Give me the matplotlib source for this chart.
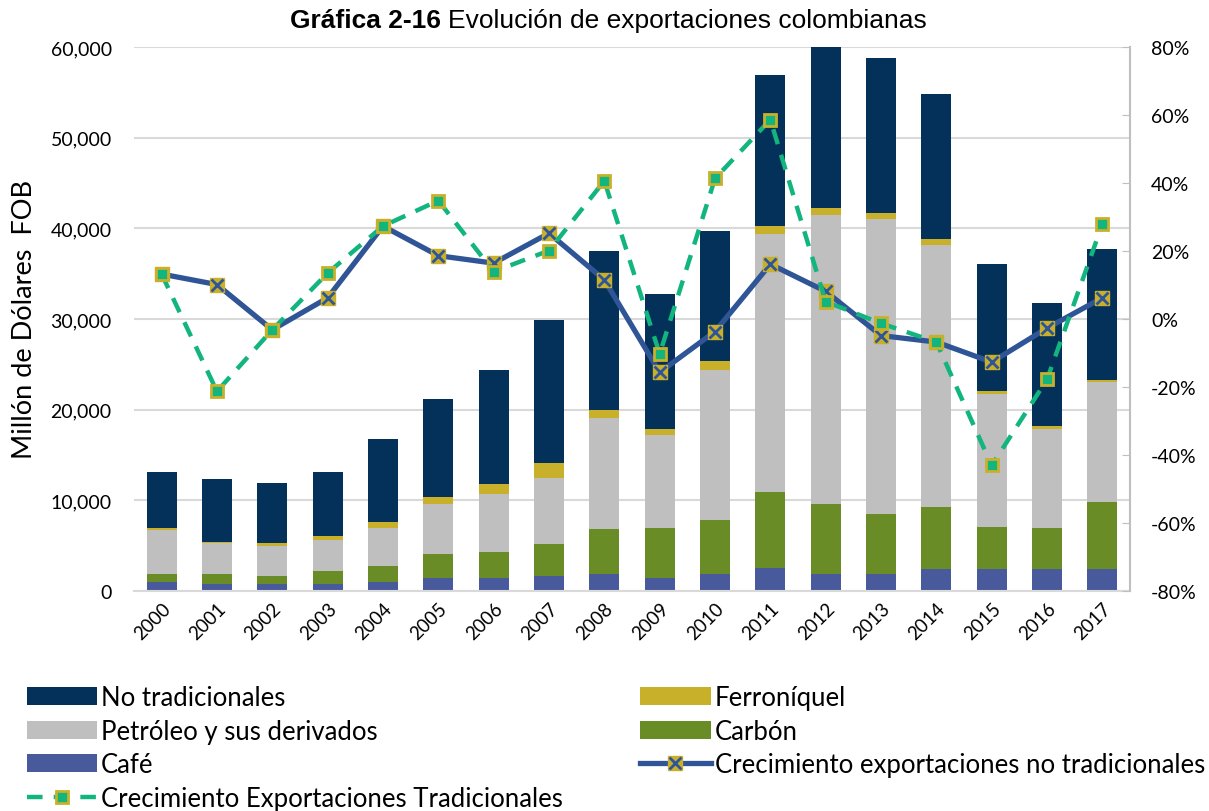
import matplotlib.pyplot as plt
import numpy as np
from matplotlib.ticker import FuncFormatter

plt.rcParams['font.family'] = ['Lato', 'DejaVu Sans']

years = [str(y) for y in range(2000, 2018)]

# miles de millones de dólares FOB (se multiplican por 1000 al dibujar)
cafe = [1.03, 0.74, 0.74, 0.81, 0.96, 1.47, 1.40, 1.69, 1.84, 1.47,
        1.86, 2.57, 1.86, 1.86, 2.45, 2.47, 2.40, 2.47]
carbon = [0.88, 1.17, 0.95, 1.40, 1.83, 2.57, 2.94, 3.49, 5.00, 5.44,
          5.96, 8.37, 7.73, 6.63, 6.79, 4.61, 4.57, 7.38]
petroleo = [4.82, 3.38, 3.31, 3.38, 4.19, 5.56, 6.36, 7.28, 12.24, 10.29,
            16.58, 28.46, 31.82, 32.53, 28.94, 14.62, 10.93, 13.14]
ferroniquel = [0.22, 0.15, 0.26, 0.48, 0.66, 0.73, 1.07, 1.69, 0.85, 0.67,
               0.95, 0.87, 0.87, 0.63, 0.59, 0.33, 0.25, 0.26]
no_tradicionales = [6.21, 6.88, 6.69, 7.02, 9.09, 10.81, 12.57, 15.77, 17.60, 14.85,
                    14.33, 16.62, 17.72, 17.13, 15.99, 13.98, 13.58, 14.50]

# crecimiento (%)
crec_no_trad = [13.2, 10.1, -3.2, 6.2, 27.3, 18.6, 16.4, 25.2, 11.5, -15.7,
                -3.7, 16.1, 8.1, -4.9, -6.8, -12.7, -2.7, 6.2]
crec_trad = [13.2, -21.3, -3.2, 13.5, 27.3, 34.8, 13.9, 20.1, 40.6, -10.3,
             41.3, 58.6, 5.1, -1.3, -6.8, -43.1, -17.8, 27.9]

c_notrad = '#033159'
c_petro = '#BFBFBF'
c_cafe = '#485A9C'
c_carbon = '#6A8C26'
c_ferro = '#C8B02B'
c_blue = '#2F5597'
c_green = '#13B57F'

fig = plt.figure(figsize=(12.09, 8.12), dpi=100)
ax = fig.add_axes([0.1108, 0.271, 0.8239, 0.670])
ax2 = ax.twinx()

x = np.arange(len(years))
w = 0.54
series = [(cafe, c_cafe, 'Café'), (carbon, c_carbon, 'Carbón'),
          (petroleo, c_petro, 'Petróleo y sus derivados'),
          (ferroniquel, c_ferro, 'Ferroníquel'),
          (no_tradicionales, c_notrad, 'No tradicionales')]
bottom = np.zeros(len(years))
bars = {}
for vals, col, lab in series:
    v = np.array(vals) * 1000
    bars[lab] = ax.bar(x, v, w, bottom=bottom, color=col, label=lab, zorder=2)
    bottom += v

ax.set_ylim(0, 60000)
ax.set_xlim(-0.5, len(years) - 0.5)
ax.set_yticks(np.arange(0, 60001, 10000))
ax.yaxis.set_major_formatter(FuncFormatter(lambda v, p: '{:,.0f}'.format(v)))
ax.grid(axis='y', color='#D9D9D9', lw=1.5, zorder=0)
ax.set_axisbelow(True)
ax.set_xticks(x)
ax.set_xticklabels(years, rotation=45, ha='right', rotation_mode='anchor', fontsize=13.5)
ax.tick_params(axis='y', length=0, labelsize=14, pad=16)
ax.tick_params(axis='x', length=0, pad=6)
ax.set_ylabel('Millón de Dólares  FOB', fontsize=19.5, labelpad=10)
for s in ['top', 'left', 'right']:
    ax.spines[s].set_visible(False)
ax.spines['bottom'].set_color('#D9D9D9')
ax.spines['bottom'].set_linewidth(1.5)

# líneas de crecimiento
blue_line, = ax2.plot(x, crec_no_trad, color=c_blue, lw=3.8, marker='s', ms=10,
                      mfc=c_ferro, mec=c_ferro, zorder=3)
blue_x, = ax2.plot(x, crec_no_trad, ls='none', marker='x', ms=8, mew=2,
                   color=c_blue, zorder=4)
green_line, = ax2.plot(x, crec_trad, color=c_green, lw=3.2, ls=(0, (3.5, 2.5)),
                       marker='s', ms=9, mfc=c_green, mec=c_ferro, mew=2, zorder=5)
ax2.set_ylim(-80, 80)
ax2.set_yticks(np.arange(-80, 81, 20))
ax2.yaxis.set_major_formatter(FuncFormatter(lambda v, p: '{:.0f}%'.format(v)))
ax2.tick_params(axis='y', direction='in', length=6, color='#BFBFBF', labelsize=14, pad=15)
for s in ['top', 'left', 'bottom']:
    ax2.spines[s].set_visible(False)
ax2.spines['right'].set_color('#BFBFBF')
ax2.spines['right'].set_linewidth(1.5)

# título: parte en negrita + parte normal, centrado en conjunto
fig.canvas.draw()
r = fig.canvas.get_renderer()
t1 = fig.text(0, 0.974, 'Gráfica 2-16 ', family='Liberation Sans', fontweight='bold',
              fontsize=19, ha='left', va='center')
t2 = fig.text(0, 0.974, 'Evolución de exportaciones colombianas',
              family='Liberation Sans', fontsize=19, ha='left', va='center')
w1 = t1.get_window_extent(r).width / fig.bbox.width
w2 = t2.get_window_extent(r).width / fig.bbox.width
x0 = 0.503 - (w1 + w2) / 2
t1.set_x(x0)
t2.set_x(x0 + w1)

handles = [bars['No tradicionales'], bars['Petróleo y sus derivados'], bars['Café'],
           green_line, bars['Ferroníquel'], bars['Carbón'], (blue_line, blue_x)]
labels = ['No tradicionales', 'Petróleo y sus derivados', 'Café',
          'Crecimiento Exportaciones Tradicionales', 'Ferroníquel', 'Carbón',
          'Crecimiento exportaciones no tradicionales']
fig.legend(handles, labels, ncol=2, loc='upper left', bbox_to_anchor=(0.022, 0.155),
           frameon=False, fontsize=18.5, handlelength=2.75, handleheight=0.7,
           handletextpad=0.15, labelspacing=0.33, columnspacing=3.0, borderaxespad=0,
           borderpad=0)

fig.savefig('out.png', dpi=100)
